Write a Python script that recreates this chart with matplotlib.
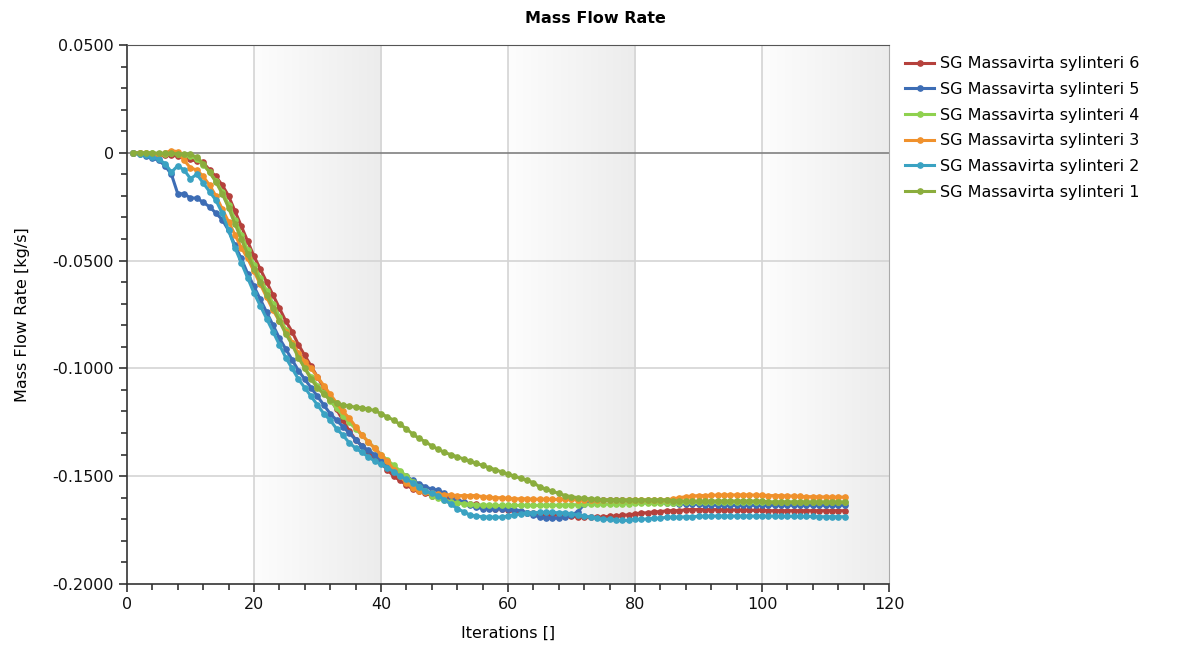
# Imports
import numpy as np
import matplotlib
matplotlib.use('Agg')
import matplotlib.pyplot as plt
from matplotlib.ticker import MultipleLocator, FuncFormatter

plt.close("all")
plt.rcParams['font.family'] = ['DejaVu Sans']

# Iterations 1..113
iterations = list(range(1, 114))

# SG Massavirta sylinteri 6 (red)
s6 = [0, 0, -0.0005, -0.0008, -0.001, -0.001, -0.0012, -0.0015, -0.002, -0.003,
      -0.004, -0.0045, -0.008, -0.011, -0.015, -0.020, -0.027, -0.034, -0.041, -0.048,
      -0.054, -0.060, -0.066, -0.072, -0.078, -0.083, -0.089, -0.094, -0.099, -0.104,
      -0.109, -0.114, -0.119, -0.124, -0.129, -0.133, -0.136, -0.139, -0.142, -0.144,
      -0.147, -0.150, -0.152, -0.154, -0.156, -0.157, -0.158, -0.159, -0.159, -0.160,
      -0.160, -0.161, -0.162, -0.163, -0.163, -0.164, -0.164, -0.165, -0.165, -0.1655,
      -0.166, -0.1665, -0.167, -0.167, -0.1675, -0.168, -0.168, -0.168, -0.1685, -0.1685,
      -0.169, -0.169, -0.169, -0.169, -0.169, -0.1685, -0.1685, -0.168, -0.168, -0.1675,
      -0.167, -0.167, -0.1665, -0.1665, -0.166, -0.166, -0.166, -0.1655, -0.1655, -0.1655,
      -0.1655, -0.1655, -0.1655, -0.1656, -0.1656, -0.1657, -0.1657, -0.1658, -0.1658, -0.1658,
      -0.166, -0.166, -0.166, -0.166, -0.166, -0.166, -0.166, -0.166, -0.166, -0.166,
      -0.166, -0.166, -0.166]

# SG Massavirta sylinteri 5 (blue)
s5 = [0, -0.0008, -0.0015, -0.0025, -0.0035, -0.006, -0.010, -0.019, -0.019, -0.021,
      -0.021, -0.023, -0.025, -0.028, -0.031, -0.036, -0.043, -0.049, -0.056, -0.062,
      -0.068, -0.074, -0.080, -0.086, -0.091, -0.096, -0.101, -0.105, -0.109, -0.113,
      -0.117, -0.121, -0.124, -0.127, -0.130, -0.133, -0.136, -0.138, -0.140, -0.142,
      -0.144, -0.146, -0.148, -0.150, -0.152, -0.1535, -0.155, -0.156, -0.1565, -0.158,
      -0.1595, -0.161, -0.162, -0.1635, -0.1645, -0.165, -0.165, -0.165, -0.165, -0.165,
      -0.1655, -0.166, -0.167, -0.168, -0.169, -0.1695, -0.1695, -0.1695, -0.169, -0.168,
      -0.1665, -0.163, -0.1615, -0.161, -0.161, -0.161, -0.161, -0.1612, -0.1615, -0.1617,
      -0.162, -0.162, -0.162, -0.1622, -0.1625, -0.1625, -0.1627, -0.163, -0.163, -0.163,
      -0.1632, -0.1632, -0.1635, -0.1635, -0.1635, -0.1635, -0.1635, -0.1635, -0.1635, -0.1635,
      -0.1635, -0.1635, -0.1635, -0.1635, -0.1635, -0.1635, -0.1635, -0.1635, -0.1635, -0.1635,
      -0.1635, -0.1635, -0.1635]

# SG Massavirta sylinteri 4 (light green)
s4 = [0, 0, 0, 0, -0.0005, -0.0005, 0, -0.0005, -0.001, -0.0015,
      -0.003, -0.0055, -0.009, -0.013, -0.018, -0.024, -0.031, -0.038, -0.045, -0.052,
      -0.058, -0.064, -0.070, -0.076, -0.082, -0.088, -0.094, -0.100, -0.104, -0.108,
      -0.1115, -0.115, -0.1185, -0.122, -0.125, -0.128, -0.131, -0.134, -0.137, -0.140,
      -0.1425, -0.145, -0.1475, -0.150, -0.1525, -0.155, -0.157, -0.159, -0.160, -0.161,
      -0.162, -0.1625, -0.1628, -0.163, -0.1632, -0.1634, -0.1635, -0.1636, -0.1636, -0.1636,
      -0.1636, -0.1636, -0.1636, -0.1636, -0.1636, -0.1635, -0.1635, -0.1635, -0.1634, -0.1633,
      -0.1632, -0.163, -0.163, -0.163, -0.163, -0.163, -0.163, -0.1628, -0.1627, -0.1626,
      -0.1625, -0.1625, -0.1625, -0.1624, -0.1624, -0.1623, -0.1623, -0.1622, -0.1622, -0.1622,
      -0.1621, -0.1621, -0.162, -0.162, -0.162, -0.162, -0.162, -0.162, -0.162, -0.162,
      -0.162, -0.162, -0.162, -0.162, -0.162, -0.162, -0.162, -0.162, -0.162, -0.162,
      -0.162, -0.162, -0.162]

# SG Massavirta sylinteri 3 (orange)
s3 = [0, 0, -0.0003, -0.0005, -0.0008, 0, 0.001, 0.0005, -0.0035, -0.007,
      -0.008, -0.011, -0.015, -0.020, -0.026, -0.032, -0.038, -0.044, -0.049, -0.055,
      -0.061, -0.067, -0.073, -0.078, -0.083, -0.088, -0.093, -0.097, -0.100, -0.104,
      -0.108, -0.112, -0.116, -0.120, -0.123, -0.127, -0.131, -0.134, -0.137, -0.140,
      -0.143, -0.147, -0.150, -0.153, -0.1555, -0.157, -0.1575, -0.158, -0.1583, -0.1585,
      -0.1587, -0.159, -0.159, -0.159, -0.159, -0.1595, -0.1597, -0.16, -0.16, -0.1603,
      -0.1605, -0.1605, -0.1605, -0.1607, -0.1607, -0.1607, -0.1608, -0.1608, -0.1608, -0.1608,
      -0.161, -0.161, -0.161, -0.161, -0.161, -0.161, -0.161, -0.161, -0.161, -0.161,
      -0.161, -0.161, -0.161, -0.161, -0.161, -0.1605, -0.16, -0.1595, -0.1592, -0.159,
      -0.159, -0.1588, -0.1588, -0.1587, -0.1587, -0.1587, -0.1587, -0.1587, -0.1588, -0.1588,
      -0.159, -0.159, -0.159, -0.1592, -0.1592, -0.1594, -0.1595, -0.1595, -0.1596, -0.1596,
      -0.1597, -0.1597, -0.1597]

# SG Massavirta sylinteri 2 (teal)
s2 = [0, -0.0005, -0.001, -0.002, -0.003, -0.005, -0.009, -0.006, -0.008, -0.012,
      -0.010, -0.014, -0.018, -0.022, -0.028, -0.036, -0.044, -0.051, -0.058, -0.065,
      -0.071, -0.077, -0.083, -0.089, -0.095, -0.100, -0.105, -0.109, -0.113, -0.117,
      -0.121, -0.124, -0.128, -0.131, -0.1345, -0.137, -0.139, -0.141, -0.143, -0.1445,
      -0.146, -0.148, -0.150, -0.1515, -0.153, -0.155, -0.157, -0.158, -0.159, -0.161,
      -0.163, -0.165, -0.1665, -0.168, -0.1685, -0.1688, -0.169, -0.169, -0.169, -0.1685,
      -0.168, -0.1675, -0.167, -0.167, -0.1668, -0.1668, -0.1668, -0.167, -0.167, -0.1675,
      -0.168, -0.1685, -0.169, -0.1695, -0.170, -0.170, -0.1705, -0.1705, -0.1705, -0.170,
      -0.170, -0.1698, -0.1695, -0.1695, -0.169, -0.169, -0.169, -0.1688, -0.1688, -0.1686,
      -0.1686, -0.1685, -0.1685, -0.1685, -0.1685, -0.1685, -0.1685, -0.1685, -0.1685, -0.1685,
      -0.1685, -0.1685, -0.1686, -0.1686, -0.1686, -0.1687, -0.1687, -0.1687, -0.1688, -0.1688,
      -0.1688, -0.1688, -0.1688]

# SG Massavirta sylinteri 1 (olive green)
s1 = [0, 0, 0, 0, -0.0003, -0.0003, -0.0003, -0.0005, -0.0005, -0.0008,
      -0.002, -0.005, -0.009, -0.0135, -0.019, -0.0255, -0.033, -0.040, -0.047, -0.054,
      -0.060, -0.066, -0.072, -0.078, -0.084, -0.089, -0.095, -0.100, -0.105, -0.109,
      -0.112, -0.1145, -0.116, -0.117, -0.1175, -0.118, -0.1183, -0.119, -0.1195, -0.121,
      -0.1225, -0.124, -0.126, -0.128, -0.1305, -0.1325, -0.134, -0.136, -0.1375, -0.139,
      -0.140, -0.141, -0.142, -0.143, -0.144, -0.145, -0.146, -0.147, -0.148, -0.149,
      -0.150, -0.151, -0.152, -0.153, -0.155, -0.156, -0.157, -0.158, -0.159, -0.1595,
      -0.160, -0.1603, -0.1605, -0.1607, -0.161, -0.161, -0.161, -0.161, -0.161, -0.161,
      -0.161, -0.161, -0.161, -0.161, -0.161, -0.1615, -0.1615, -0.1615, -0.1615, -0.1615,
      -0.1615, -0.1615, -0.1615, -0.1615, -0.1615, -0.1615, -0.1615, -0.1615, -0.1615, -0.1615,
      -0.162, -0.162, -0.162, -0.162, -0.162, -0.162, -0.162, -0.162, -0.162, -0.162,
      -0.162, -0.162, -0.162]

series_names = ['SG Massavirta sylinteri 6', 'SG Massavirta sylinteri 5',
                'SG Massavirta sylinteri 4', 'SG Massavirta sylinteri 3',
                'SG Massavirta sylinteri 2', 'SG Massavirta sylinteri 1']
series_values = [s6, s5, s4, s3, s2, s1]
colors = ['#b5413c', '#3d6db5', '#8fd14f', '#f0912c', '#3aa2c2', '#8bad3d']

fig = plt.figure(figsize=(11.8, 6.48), dpi=100)
ax = fig.add_axes([0.1076, 0.0988, 0.6458, 0.8318])

# grey gradient bands every other 20 iterations
band_cmap = matplotlib.colors.LinearSegmentedColormap.from_list('band', ['#fdfdfd', '#ececec'])
grad = np.linspace(0, 1, 256).reshape(1, -1)
for start in [20, 60, 100]:
    ax.imshow(grad, extent=[start, start + 20, -0.2, 0.05], aspect='auto',
              cmap=band_cmap, zorder=0)

# grid
for xv in [20, 40, 60, 80, 100]:
    ax.axvline(xv, color='#d4d4d4', lw=1.2, zorder=1)
for yv in [-0.05, -0.1, -0.15]:
    ax.axhline(yv, color='#d4d4d4', lw=1.2, zorder=1)
ax.axhline(0, color='#808080', lw=1.2, zorder=1)

for name, vals, c in zip(series_names, series_values, colors):
    ax.plot(iterations, vals, color=c, lw=2.2, marker='o', markersize=3.8,
            label=name, zorder=3)

ax.set_xlim(0, 120)
ax.set_ylim(-0.2, 0.05)
ax.xaxis.set_major_locator(MultipleLocator(20))
ax.xaxis.set_minor_locator(MultipleLocator(4))
ax.yaxis.set_major_locator(MultipleLocator(0.05))
ax.yaxis.set_minor_locator(MultipleLocator(0.01))


def yfmt(v, pos):
    if abs(v) < 1e-9:
        return '0'
    return '%.4f' % v


ax.yaxis.set_major_formatter(FuncFormatter(yfmt))
ax.tick_params(axis='both', which='major', direction='out', length=6, width=1.2,
               labelsize=11.5, color='#333333', labelcolor='#111111')
ax.tick_params(axis='both', which='minor', direction='out', length=4, width=1.2,
               color='#333333')

ax.spines['left'].set_color('#333333')
ax.spines['bottom'].set_color('#333333')
ax.spines['left'].set_linewidth(1.2)
ax.spines['bottom'].set_linewidth(1.2)
ax.spines['top'].set_color('#555555')
ax.spines['right'].set_color('#aaaaaa')

# title is centred on the whole figure in the original
fig.text(0.505, 0.972, 'Mass Flow Rate', fontsize=11.5, fontweight='bold',
         ha='center', va='center')
ax.set_xlabel('Iterations []', fontsize=11.5, labelpad=10)
ax.set_ylabel('Mass Flow Rate [kg/s]', fontsize=11.5, labelpad=16)

ax.legend(loc='upper left', bbox_to_anchor=(1.006, 1.0), frameon=False,
          fontsize=11.5, handlelength=1.85, handletextpad=0.35,
          labelspacing=0.67, borderaxespad=0.3)

plt.savefig('out.png', dpi=100)
